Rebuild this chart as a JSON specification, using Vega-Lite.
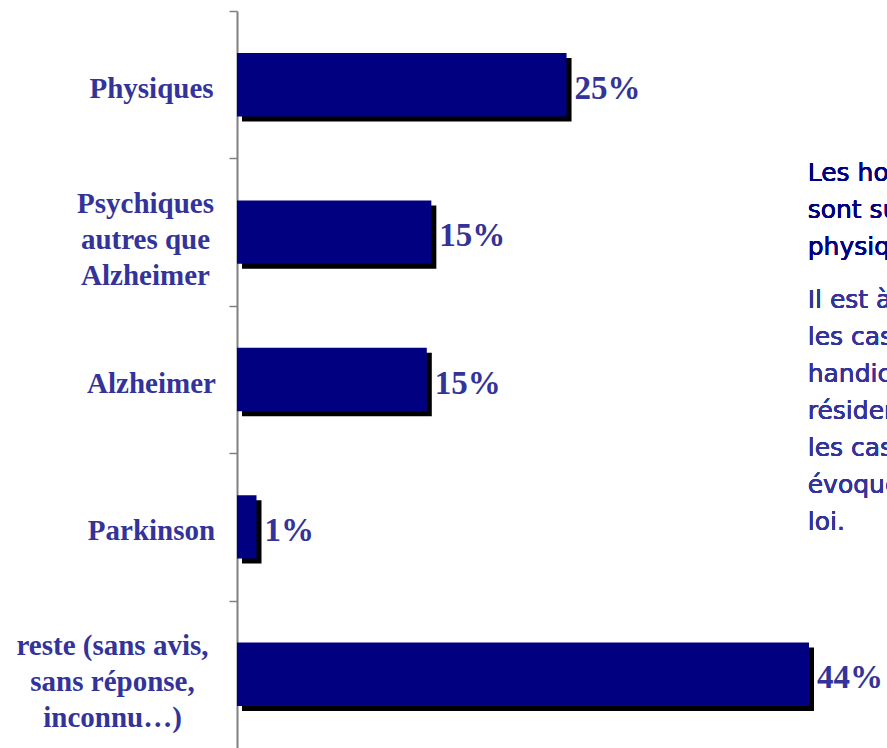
{
  "$schema": "https://vega.github.io/schema/vega-lite/v6.json",
  "width": 650,
  "height": 737,
  "autosize": {"type": "none"},
  "padding": {"left": 237, "top": 11, "right": 0, "bottom": 0},
  "background": "white",
  "config": {"view": {"stroke": null}},
  "data": {
    "values": [
      {"cat": "Physiques", "value": 25.35, "txt": "25%"},
      {"cat": "Psychiques|autres que|Alzheimer", "value": 14.95, "txt": "15%"},
      {"cat": "Alzheimer", "value": 14.6, "txt": "15%"},
      {"cat": "Parkinson", "value": 1.5, "txt": "1%"},
      {"cat": "reste (sans avis,|sans réponse,|inconnu…)", "value": 44, "txt": "44%"}
    ]
  },
  "encoding": {
    "y": {
      "field": "cat",
      "type": "nominal",
      "sort": null,
      "scale": {"paddingInner": 0.57, "paddingOuter": 0.285},
      "axis": {
        "title": null,
        "labelExpr": "split(datum.label, '|')",
        "labelFont": "Liberation Serif",
        "labelFontWeight": "bold",
        "labelFontSize": 29,
        "labelColor": "#333399",
        "labelLineHeight": 36,
        "labelAlign": "center",
        "labelBaseline": "middle",
        "labelPadding": {"condition": [
          {"test": "indexof(datum.value, 'reste') >= 0", "value": 117},
          {"test": "indexof(datum.value, 'Psychiques') >= 0", "value": 84}
        ], "value": 78},
        "labelLimit": 400,
        "tickOffset": -73.7,
        "labelOffset": {"condition": {"test": "indexof(datum.value, '|') >= 0", "value": 44.7}, "value": 77.7},
        "tickSize": 8,
        "tickColor": "#808080",
        "tickWidth": 1.5,
        "domainColor": "#808080",
        "domainWidth": 2,
        "grid": false
      }
    }
  },
  "layer": [
    {
      "mark": {"type": "bar", "color": "black", "xOffset": 5, "yOffset": 5},
      "encoding": {
        "x": {"field": "value", "type": "quantitative", "scale": {"domain": [0, 50]}, "axis": null}
      }
    },
    {
      "mark": {"type": "bar", "color": "#000080"},
      "encoding": {
        "x": {"field": "value", "type": "quantitative", "scale": {"domain": [0, 50]}, "axis": null}
      }
    },
    {
      "mark": {"type": "text", "align": "left", "baseline": "middle", "dx": 8, "dy": 4, "font": "Liberation Serif", "fontWeight": "bold", "fontSize": 33, "color": "#333399"},
      "encoding": {
        "x": {"field": "value", "type": "quantitative", "scale": {"domain": [0, 50]}, "axis": null},
        "text": {"field": "txt"}
      }
    },
    {
      "mark": {"type": "text", "align": "left", "baseline": "middle", "font": "DejaVu Sans", "fontSize": 25, "lineHeight": 37, "color": "#000080", "yOffset": -59,
               "text": ["Les hommes", "sont surtout", "physiques"]},
      "encoding": {
        "x": {"datum": 43.9, "type": "quantitative"},
        "y": {"datum": "Psychiques|autres que|Alzheimer", "type": "nominal"}
      }
    },
    {
      "mark": {"type": "text", "align": "left", "baseline": "middle", "font": "DejaVu Sans", "fontSize": 25, "lineHeight": 37, "color": "#333399", "yOffset": -80,
               "text": ["Il est à noter que", "les cas de", "handicap", "résident", "les cas", "évoqués par la", "loi."]},
      "encoding": {
        "x": {"datum": 43.9, "type": "quantitative"},
        "y": {"datum": "Alzheimer", "type": "nominal"}
      }
    }
  ]
}
